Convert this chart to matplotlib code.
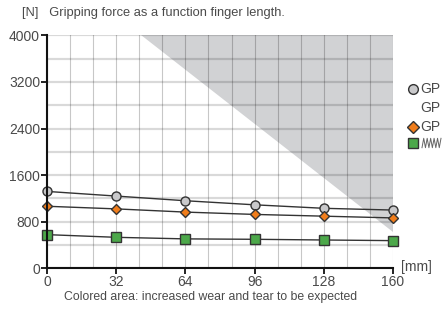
import numpy as np
import matplotlib.pyplot as plt
from matplotlib.patches import Polygon
from matplotlib.lines import Line2D

# ---------------------------------------------------------------------------
# Data
# ---------------------------------------------------------------------------
finger_length = [0, 32, 64, 96, 128, 160]          # mm
force_circle  = [1320, 1240, 1160, 1090, 1030, 1000]  # N
force_diamond = [1065, 1020, 965, 925, 895, 865]
force_square  = [578, 532, 505, 498, 486, 475]

# boundary of the "increased wear" area: (mm, N)
wear_x = [43.5, 160]
wear_y = [4000, 630]

x_ticks = [0, 32, 64, 96, 128, 160]
y_ticks = [0, 800, 1600, 2400, 3200, 4000]
legend_labels = ['GP', 'GP', 'GP', '']

TXT = '#4a4a4a'
plt.rcParams['font.family'] = ['Liberation Sans', 'DejaVu Sans']

fig = plt.figure(figsize=(4.43, 3.13), dpi=100)
ax = fig.add_axes([0.1061, 0.1428, 0.7810, 0.7444])

# shaded area
poly = Polygon([(wear_x[0], wear_y[0]), (160, 4000), (wear_x[1], wear_y[1])],
               closed=True, facecolor='#d1d2d4', edgecolor='none', zorder=0)
ax.add_patch(poly)

# grid: 15 x 10 cells
for gx in np.linspace(0, 160, 16):
    ax.axvline(gx, color='#000000', alpha=0.22, lw=0.8, zorder=1)
for gy in np.linspace(0, 4000, 11):
    ax.axhline(gy, color='#000000', alpha=0.15, lw=1.6, zorder=1)

ax.plot(finger_length, force_circle, color='#333333', lw=1, marker='o', ms=6.5,
        mfc='#c9c9cb', mec='#333333', mew=1, zorder=3, clip_on=False)
ax.plot(finger_length, force_diamond, color='#333333', lw=1, marker='D', ms=5,
        mfc='#f07d1b', mec='#333333', mew=1, zorder=3, clip_on=False)
ax.plot(finger_length, force_square, color='#333333', lw=1, marker='s', ms=6.5,
        mfc='#4ca84a', mec='#333333', mew=1, zorder=3, clip_on=False)

ax.set_xlim(0, 160)
ax.set_ylim(0, 4000)
ax.set_xticks(x_ticks)
ax.set_yticks(y_ticks)
for s in ['top', 'right']:
    ax.spines[s].set_visible(False)
for s in ['left', 'bottom']:
    ax.spines[s].set_linewidth(1.5)
    ax.spines[s].set_color('#111111')
    ax.spines[s].set_zorder(4)
ax.tick_params(direction='out', length=4, width=1.3, color='#111111',
               labelsize=10, labelcolor=TXT, pad=1)

fig.text(0.05, 0.960, '[N]   Gripping force as a function finger length.',
         fontsize=9.3, color=TXT, va='center')
fig.text(0.905, 0.146, '[mm]', fontsize=10, color=TXT, va='center')
fig.text(0.475, 0.050, 'Colored area: increased wear and tear to be expected',
         fontsize=8.8, color=TXT, va='center', ha='center')

# legend at the right edge (cut off like the reference)
leg_y = [1 - 89 / 313, 1 - 108 / 313, 1 - 127 / 313, 1 - 143 / 313]
mk = [('o', '#c9c9cb', 7), (None, None, 0), ('D', '#f07d1b', 6), ('s', '#4ca84a', 7)]
for (m, c, sz), y, lab in zip(mk, leg_y, legend_labels):
    if m is not None:
        fig.add_artist(Line2D([413 / 443], [y], marker=m, ms=sz, mfc=c,
                              mec='#333333', mew=1, transform=fig.transFigure))
    if lab:
        fig.text(420 / 443, y, lab, fontsize=10, color=TXT, va='center')

# spring symbol next to the green square
xs = np.linspace(422, 441, 12) / 443
y = leg_y[3]
zig = [y + (0.015 if i % 2 else -0.015) for i in range(len(xs))]
fig.add_artist(Line2D(xs, zig, color='#666666', lw=0.7, transform=fig.transFigure))

fig.savefig('out.png', dpi=100)
